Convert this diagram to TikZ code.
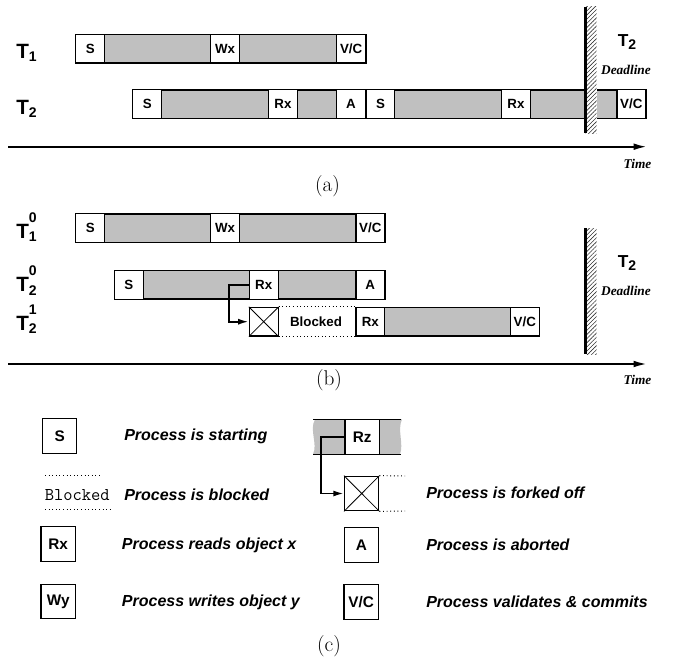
\documentclass[tikz,border=0pt]{standalone}
\usepackage{fontspec}
\newfontfamily\hv{Liberation Sans}
\newfontfamily\tm{Liberation Serif}
\usetikzlibrary{patterns,patterns.meta,arrows.meta}
\definecolor{barg}{RGB}{192,192,192}
\newcommand{\sub}[1]{\raisebox{-2.5pt}{\fontsize{10.5}{12}\selectfont #1}}
\newcommand{\supsub}[2]{\rlap{\raisebox{12pt}{\fontsize{10.5}{12}\selectfont #1}}\raisebox{-2.5pt}{\fontsize{10.5}{12}\selectfont #2}}
\begin{document}
\begin{tikzpicture}[x=0.75pt,y=-0.75pt,
  bar/.style={draw, fill=barg, line width=0.8pt},
  ev/.style={draw, fill=white, line width=0.8pt, minimum width=21.5pt, minimum height=21.4pt, inner sep=0pt, font=\hv\bfseries\fontsize{10}{12}\selectfont},
  lg/.style={draw, fill=white, line width=0.8pt, minimum width=25.8pt, minimum height=26pt, inner sep=0pt, font=\hv\bfseries\fontsize{11.5}{13}\selectfont},
  desc/.style={anchor=west, inner sep=0pt, font=\hv\bfseries\itshape\fontsize{12}{14}\selectfont},
  rowlab/.style={anchor=base west, inner sep=0pt, font=\hv\bfseries\fontsize{15.5}{18}\selectfont},
  dlab/.style={inner sep=0pt, font=\hv\bfseries\fontsize{13}{15}\selectfont},
  serlab/.style={inner sep=0pt, font=\tm\bfseries\itshape\fontsize{10}{12}\selectfont},
  captext/.style={inner sep=0pt, font=\fontsize{16}{19}\selectfont},
  axis/.style={line width=1.5pt, -{Latex[length=10pt,width=5pt]}},
  fork/.style={line width=1.4pt, -{Latex[length=8pt,width=4.5pt]}},
  dots/.style={line width=0.7pt, dotted},
  hatch/.style={pattern={Lines[angle=45,distance=2.2pt,line width=0.45pt]}, pattern color=black!80},
  dline/.style={line width=1.8pt}
]
\useasboundingbox (0,0) rectangle (678,660);

% ---------------- (a) ----------------
\node[rowlab] (la1) at (16,58.3) {T\sub{1}};
\node[rowlab] (la2) at (16,114.3) {T\sub{2}};

\draw[bar] (76,34.3) rectangle (366,63);
\node[ev] (a1s) at (90.2,48.6) {S};
\node[ev] (a1w) at (225,48.6) {Wx};
\node[ev] (a1v) at (351.2,48.6) {V/C};

\draw[bar] (132.7,90) rectangle (646,118.3);
\node[ev] (a2s) at (147.2,104.2) {S};
\node[ev] (a2r) at (283,104.2) {Rx};
\node[ev] (a2a) at (351,104.2) {A};
\node[ev] (a2s2) at (380.5,104.2) {S};
\node[ev] (a2r2) at (516,104.2) {Rx};
\node[ev] (a2v) at (631.3,104.2) {V/C};

\fill[white] (585,6.7) rectangle (596.7,133);
\fill[hatch] (585,6.7) rectangle (596.7,133);
\draw[dline] (585.6,6.7) -- (585.6,133);
\node[dlab] (adt) at (627,42) {T\sub{2}};
\node[serlab] (add) at (626,70) {Deadline};

\coordinate (aax0) at (8,146.7);
\coordinate (aax1) at (647,146.7);
\draw[axis] (aax0) -- (aax1);
\node[serlab] (atime) at (637.5,164) {Time};
\node[captext] (capa) at (327.5,186) {(a)};

% ---------------- (b) ----------------
\node[rowlab] (lb1) at (16,238.3) {T\supsub{0}{1}};
\node[rowlab] (lb2) at (16,291.7) {T\supsub{0}{2}};
\node[rowlab] (lb3) at (16,330) {T\supsub{1}{2}};

\draw[bar] (76,214) rectangle (385,242.3);
\node[ev] (b1s) at (90.2,228.2) {S};
\node[ev] (b1w) at (225,228.2) {Wx};
\node[ev] (b1v) at (370.3,228.2) {V/C};

\draw[bar] (114.3,270.7) rectangle (385,299);
\node[ev] (b2s) at (128.7,284.8) {S};
\node[ev] (b2r) at (263.7,284.8) {Rx};
\node[ev] (b2a) at (370.3,284.8) {A};

\draw[bar] (355.7,307.3) rectangle (539.3,336);
\node[ev] (b3x) at (263.7,321.7) {};
\draw[line width=0.6pt] (b3x.north west) -- (b3x.south east) (b3x.north east) -- (b3x.south west);
\node[ev] (b3r) at (370.3,321.7) {Rx};
\node[ev] (b3v) at (524.8,321.7) {V/C};
\draw[dots] (b3x.north east) -- (b3r.north west);
\draw[dots] (b3x.south east) -- (b3r.south west);
\node[inner sep=0pt, font=\hv\bfseries\fontsize{10}{12}\selectfont] (b3b) at (316,322) {Blocked};

\draw[fork] (b2r.west) -- ++(-19.7,0) |- (b3x.west);

\fill[white] (585,228.3) rectangle (596.7,354);
\fill[hatch] (585,228.3) rectangle (596.7,354);
\draw[dline] (585.6,228.3) -- (585.6,354);
\node[dlab] (bdt) at (627,263) {T\sub{2}};
\node[serlab] (bdd) at (626,291) {Deadline};

\coordinate (bax0) at (8,364);
\coordinate (bax1) at (647,364);
\draw[axis] (bax0) -- (bax1);
\node[serlab] (btime) at (637.5,380) {Time};
\node[captext] (capb) at (329,380) {(b)};

% ---------------- (c) ----------------
\node[lg] (ls) at (59.7,436.2) {S};
\node[desc] (ts) at (124,436) {Process is starting};

\draw[dots] (45,475) -- (101.7,475);
\draw[dots] (45,509.3) -- (110,509.3);
\node[inner sep=0pt, font=\ttfamily\fontsize{13.5}{15}\selectfont] (lbl) at (77.3,495) {Blocked};
\node[desc] (tbl) at (124,495) {Process is blocked};

\node[lg] (lr) at (58.2,544.2) {Rx};
\node[desc] (tr) at (121.7,545) {Process reads object x};

\node[lg] (lw) at (58.2,601.5) {Wy};
\node[desc] (tw) at (121.7,602.3) {Process writes object y};

% right legend
\fill[barg] (315,419.3) .. controls (309,430) and (318,444) .. (313,454.3) -- (400,454.3)
  .. controls (404,444) and (397,430) .. (402,419.3) -- cycle;
\draw[line width=0.8pt] (313,419.3) -- (401,419.3);
\draw[line width=0.8pt] (313,454.3) -- (401,454.3);
\node[lg] (lrz) at (362.2,436.8) {Rz};

\node[lg] (lx) at (361.7,493.5) {};
\draw[line width=0.6pt] (lx.north west) -- (lx.south east) (lx.north east) -- (lx.south west);
\draw[dots] (lx.north east) -- (405,476);
\draw[dots] (lx.south east) -- (405,511);
\draw[fork] (lrz.west) -- ++(-23.3,0) |- (lx.west);
\node[desc] (tx) at (426,492.7) {Process is forked off};

\node[lg] (la) at (361.3,544.8) {A};
\node[desc] (ta) at (426,545) {Process is aborted};

\node[lg] (lv) at (361.2,601.7) {V/C};
\node[desc] (tv) at (426,602) {Process validates \& commits};

\node[captext] (capc) at (329,646) {(c)};
\end{tikzpicture}
\end{document}
